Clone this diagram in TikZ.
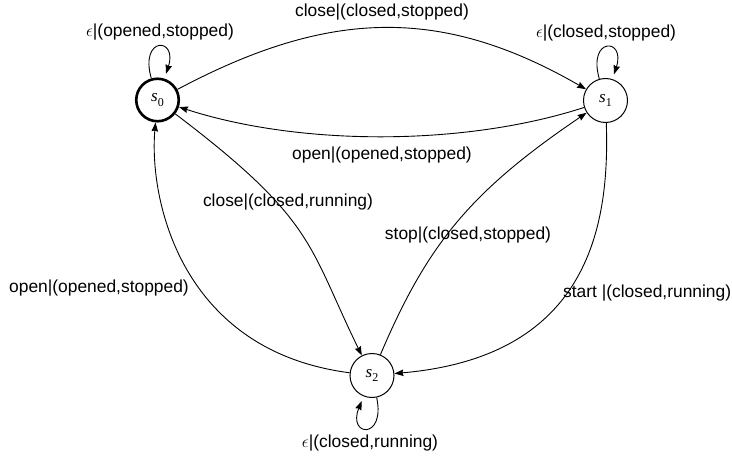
\documentclass[tikz,border=0pt]{standalone}
\usepackage{fontspec}
\setmainfont{Liberation Sans}
\newfontfamily\tnr{Liberation Serif}
\usetikzlibrary{arrows.meta}
\newcommand{\stname}[1]{{\tnr\itshape s}{\tnr\raisebox{-0.28em}{\fontsize{12}{12}\selectfont #1}}}
\begin{document}
\begin{tikzpicture}[x=1pt,y=1pt,
  state/.style={circle,draw,line width=1pt,minimum size=44pt,inner sep=0pt,font=\fontsize{17}{20}\selectfont},
  initial state/.style={state,line width=2.6pt,minimum size=42.5pt},
  lbl/.style={inner sep=0pt,font=\fontsize{17.4}{20}\selectfont},
  trans/.style={line width=0.9pt,-{Stealth[length=9pt,width=6.5pt,inset=1pt]}},
  selfloop/.style={trans,looseness=8.5,shorten >=5pt},
]
\useasboundingbox (0,0) rectangle (732,459);
\node[initial state] (s0) at (157.5,359) {\stname{0}};
\node[state] (s1) at (605.5,358.5) {\stname{1}};
\node[state] (s2) at (372,83.5) {\stname{2}};

\draw[trans] (s0) to[out=28,in=150,looseness=1.06] (s1);
\draw[trans] (s1) to[out=198,in=-18,looseness=0.8] (s0);
\draw[trans] (s0.-38) .. controls (316,238.5) and (308,213.5) .. (s2.117);
\draw[trans] (s2.68) .. controls (428,216.5) and (472,268.5) .. (s1.213);
\draw[trans] (s1.-88) .. controls (610.2,226.6) and (584.4,102.0) .. (s2.5);
\draw[trans] (s2.173) .. controls (180,108) and (148.9,260.7) .. (s0.-95);
\draw[selfloop] (s0) to[out=106,in=72] (s0);
\draw[selfloop] (s1) to[out=106,in=72] (s1);
\draw[selfloop] (s2) to[out=-78,in=-112] (s2);

\node[lbl] (l01) at (382,447) {close|(closed,stopped)};
\node[lbl] (l00) at (160,427) {$\epsilon$|(opened,stopped)};
\node[lbl] (l11) at (606,426) {$\epsilon$|(closed,stopped)};
\node[lbl] (l10) at (382,304) {open|(opened,stopped)};
\node[lbl] (l02) at (288,257) {close|(closed,running)};
\node[lbl] (l21) at (468,224) {stop|(closed,stopped)};
\node[lbl,anchor=west] (l12) at (563,166) {start |(closed,running)};
\node[lbl,anchor=east] (l20) at (189,171) {open|(opened,stopped)};
\node[lbl] (l22) at (370,16) {$\epsilon$|(closed,running)};
\end{tikzpicture}
\end{document}
